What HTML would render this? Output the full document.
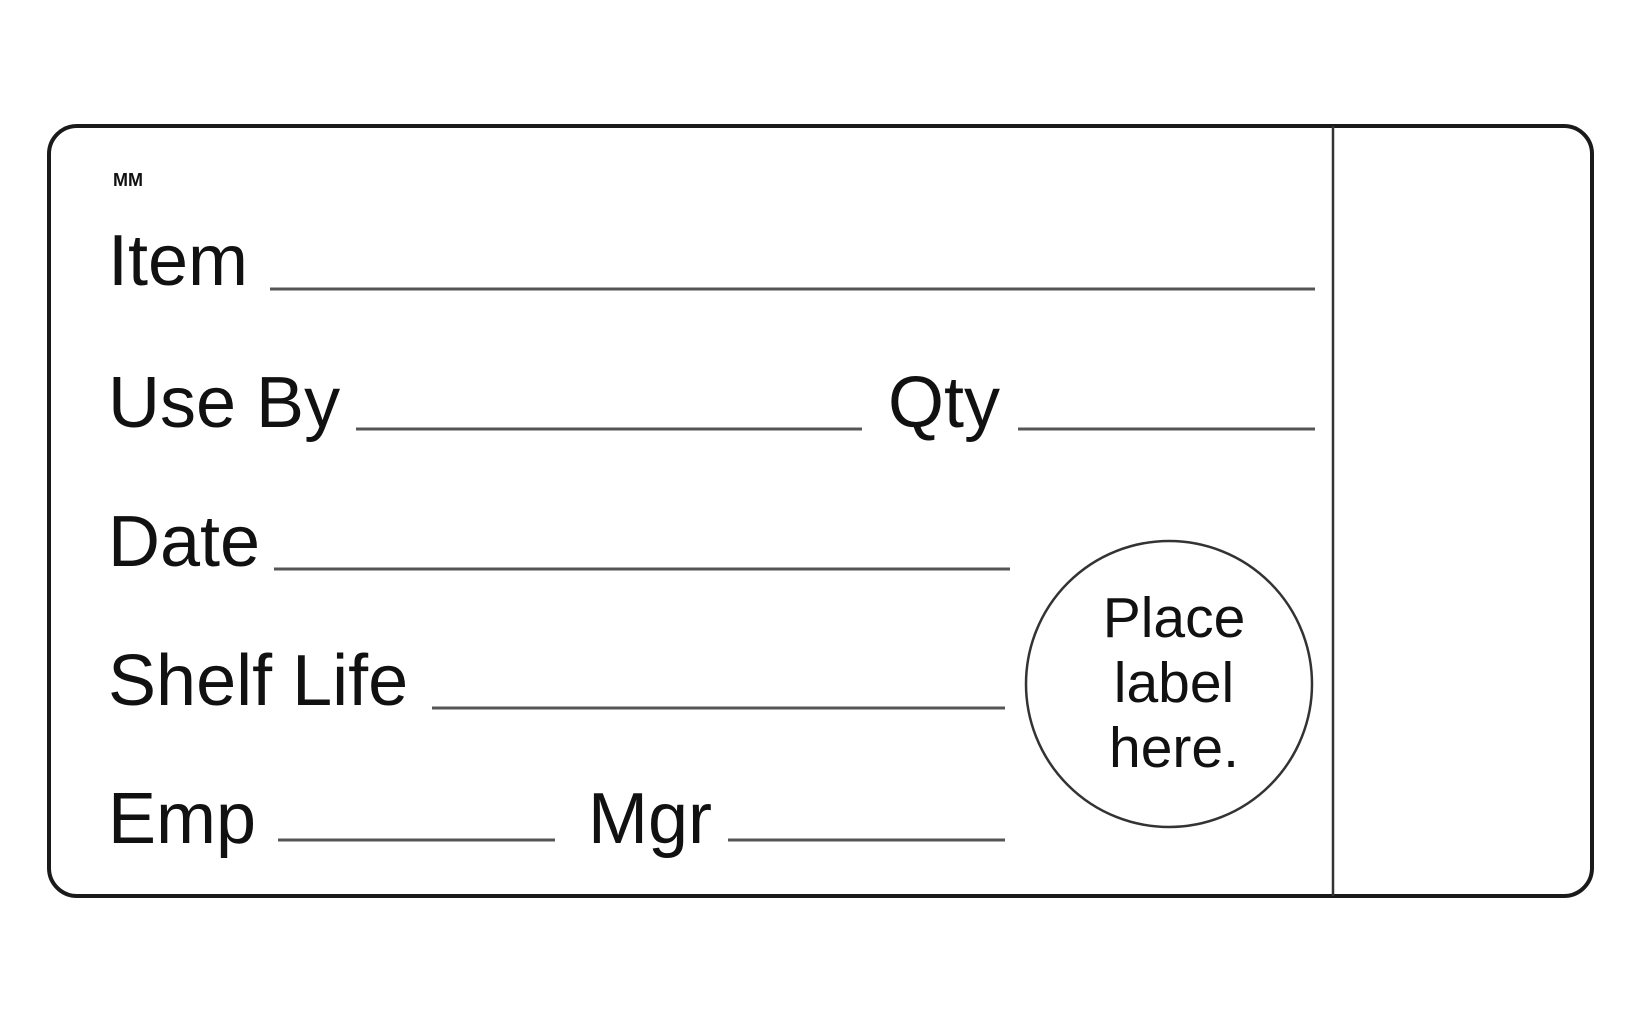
<!DOCTYPE html>
<html><head><style>
html,body{margin:0;padding:0;background:#fff;width:1640px;height:1025px;overflow:hidden}
svg text{font-family:"Liberation Sans",sans-serif;fill:#111}
</style></head><body>
<svg width="1640" height="1025" viewBox="0 0 1640 1025" xmlns="http://www.w3.org/2000/svg">
<rect x="49" y="126" width="1543" height="770" rx="28" ry="28" fill="#fff" stroke="#1a1a1a" stroke-width="4"/>
<line x1="1333" y1="126" x2="1333" y2="896" stroke="#333" stroke-width="2.5"/>
<text x="113" y="186" font-size="18" font-weight="bold" fill="#444">MM</text>
<g font-size="72">
<text x="108" y="285">Item</text>
<text x="108" y="427">Use By</text>
<text x="888" y="427">Qty</text>
<text x="108" y="566">Date</text>
<text x="108" y="705">Shelf Life</text>
<text x="108" y="843">Emp</text>
<text x="588" y="843">Mgr</text>
</g>
<g stroke="#555" stroke-width="3">
<line x1="270" y1="289" x2="1315" y2="289"/>
<line x1="356" y1="429" x2="862" y2="429"/>
<line x1="1018" y1="429" x2="1315" y2="429"/>
<line x1="274" y1="569" x2="1010" y2="569"/>
<line x1="432" y1="708" x2="1005" y2="708"/>
<line x1="278" y1="840" x2="555" y2="840"/>
<line x1="728" y1="840" x2="1005" y2="840"/>
</g>
<circle cx="1169" cy="684" r="143" fill="none" stroke="#333" stroke-width="2.5"/>
<g font-size="57" text-anchor="middle">
<text x="1174" y="637">Place</text>
<text x="1174" y="702">label</text>
<text x="1174" y="767">here.</text>
</g>
</svg>
</body></html>
